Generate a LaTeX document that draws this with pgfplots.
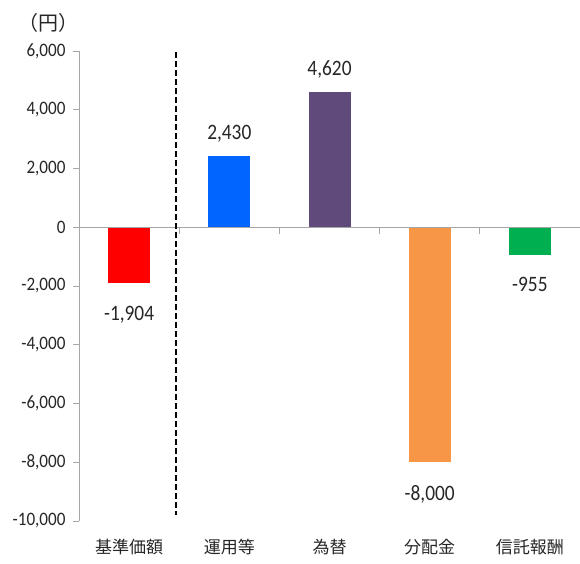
\documentclass[border=0pt]{standalone}
\usepackage{pgfplots}
\pgfplotsset{compat=1.18}
\usepackage{fontspec}
\setmainfont{Carlito}[FakeStretch=0.9]
\newfontfamily\lbl{Carlito}[FakeStretch=0.88]
\newfontfamily\jp{Noto Sans CJK JP}
\definecolor{cred}{HTML}{FF0000}
\definecolor{cblue}{HTML}{0066FF}
\definecolor{cpurple}{HTML}{604A7B}
\definecolor{corange}{HTML}{F79646}
\definecolor{cgreen}{HTML}{00B050}
\definecolor{axgray}{HTML}{A6A6A6}
\definecolor{txt}{HTML}{262626}
\begin{document}
\begin{tikzpicture}
\begin{axis}[
  scale only axis, width=501pt, height=470pt,
  xmin=-0.5, xmax=4.5, ymin=-10000, ymax=6000,
  clip=false,
  axis y line*=left,
  axis x line*=bottom,
  x axis line style={draw=none},
  y axis line style={draw=axgray, line width=0.8pt},
  ytick={-10000,-8000,...,6000},
  ytick style={draw=axgray, line width=0.8pt},
  tick align=outside, major tick length=6pt,
  xtick={0,1,2,3,4},
  xticklabels={基準価額,運用等,為替,分配金,信託報酬},
  xtick style={draw=none},
  xticklabel style={font=\jp\fontsize{17}{17}\selectfont, yshift=-9pt, text=txt},
  yticklabel style={font=\fontsize{19}{19}\selectfont, text=txt, xshift=-4pt},
  scaled y ticks=false,
  /pgf/number format/.cd, 1000 sep={,}, assume math mode=true,
]
\addplot[ybar, bar width=42pt, bar shift=0pt, fill=cred, draw=none,
  nodes near coords, every node near coord/.append style={font=\lbl\fontsize{22}{22}\selectfont, text=txt, yshift=-20pt}]
  coordinates {(0,-1904)};
\addplot[ybar, bar width=42pt, bar shift=0pt, fill=cblue, draw=none,
  nodes near coords, every node near coord/.append style={font=\lbl\fontsize{22}{22}\selectfont, text=txt, yshift=10pt}]
  coordinates {(1,2430)};
\addplot[ybar, bar width=42pt, bar shift=0pt, fill=cpurple, draw=none,
  nodes near coords, every node near coord/.append style={font=\lbl\fontsize{22}{22}\selectfont, text=txt, yshift=10pt}]
  coordinates {(2,4620)};
\addplot[ybar, bar width=42pt, bar shift=0pt, fill=corange, draw=none,
  nodes near coords, every node near coord/.append style={font=\lbl\fontsize{22}{22}\selectfont, text=txt, yshift=-20pt}]
  coordinates {(3,-8000)};
\addplot[ybar, bar width=42pt, bar shift=0pt, fill=cgreen, draw=none,
  nodes near coords, every node near coord/.append style={font=\lbl\fontsize{22}{22}\selectfont, text=txt, yshift=-18pt}]
  coordinates {(4,-955)};
\draw[axgray, line width=0.8pt] (axis cs:-0.5,0) -- (axis cs:4.5,0);
\draw[axgray, line width=0.8pt] (axis cs:0.5,0) -- ([yshift=-7pt]axis cs:0.5,0);
\draw[axgray, line width=0.8pt] (axis cs:1.5,0) -- ([yshift=-7pt]axis cs:1.5,0);
\draw[axgray, line width=0.8pt] (axis cs:2.5,0) -- ([yshift=-7pt]axis cs:2.5,0);
\draw[axgray, line width=0.8pt] (axis cs:3.5,0) -- ([yshift=-7pt]axis cs:3.5,0);
\draw[black, line width=1.6pt, dash pattern=on 6pt off 3pt] (axis cs:0.47,5950) -- (axis cs:0.47,-9800);
\node[font=\jp\fontsize{20}{20}\selectfont, text=txt] at ([shift={(-30pt,28pt)}]rel axis cs:0,1) {（円）};
\coordinate (bl) at (rel axis cs:0,0);
\coordinate (tr) at (rel axis cs:1,1);
\end{axis}
\pgfresetboundingbox
\path[use as bounding box] ([shift={(-79pt,-42pt)}]bl) rectangle ([shift={(0pt,51pt)}]tr);
\end{tikzpicture}
\end{document}
